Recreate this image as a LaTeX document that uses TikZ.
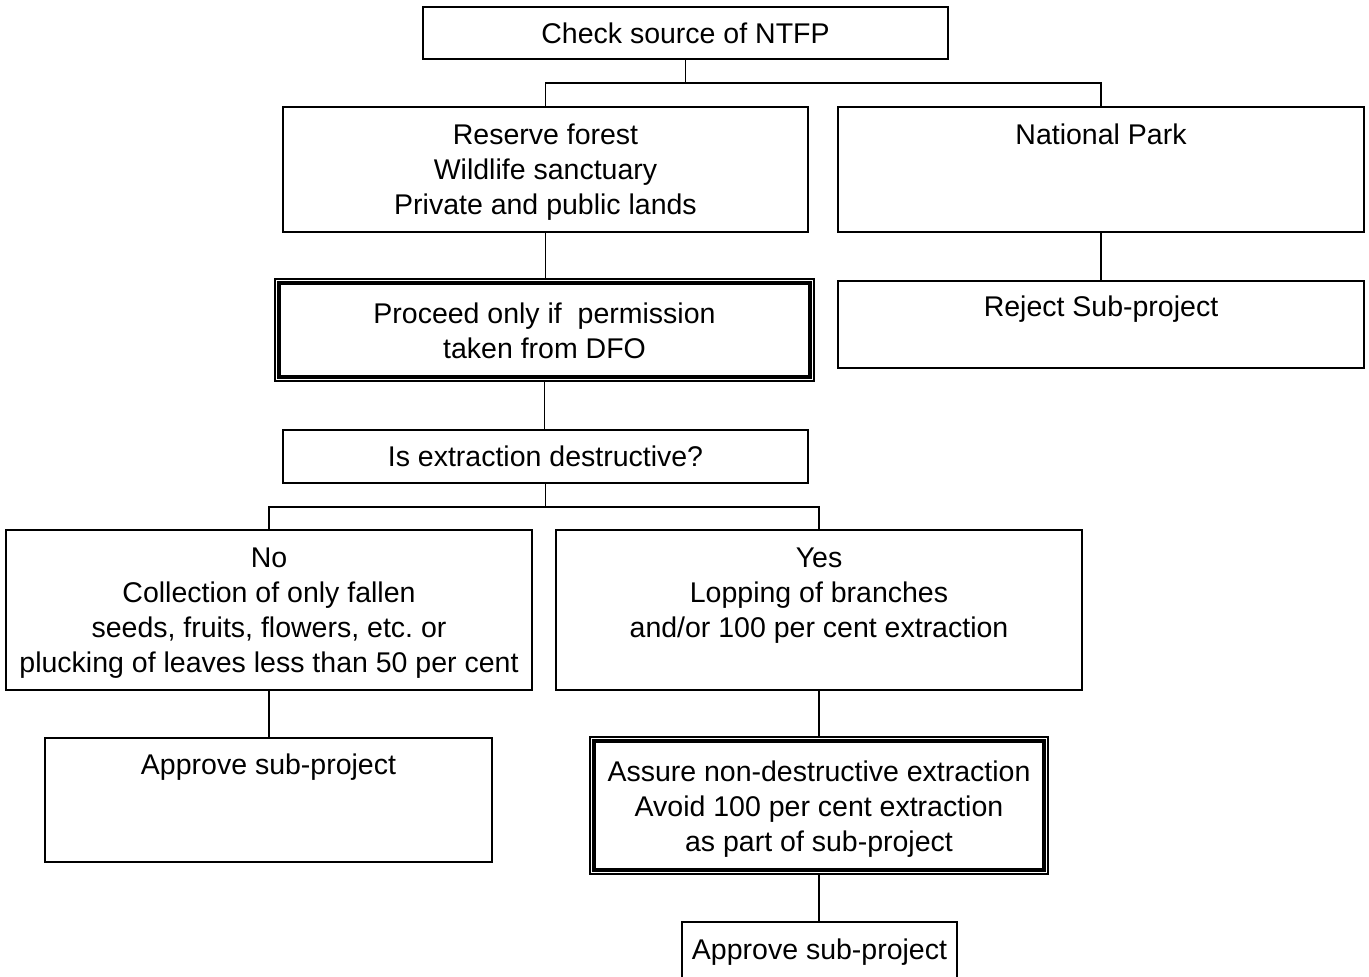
\documentclass[tikz,border=0pt]{standalone}
\usepackage{fontspec}
\setmainfont{Liberation Sans}
\frenchspacing
\begin{document}
\begin{tikzpicture}[x=0.5pt,y=-0.5pt,
  every node/.style={font=\fontsize{14.25}{17.5}\selectfont},
  size/.style 2 args={minimum width=#1*0.5pt, minimum height=#2*0.5pt},
  box/.style={draw, line width=1pt, rectangle, inner sep=0pt, align=center},
  outerbox/.style={draw, line width=0.65pt, rectangle, inner sep=0pt, align=center},
  inner frame/.style={line width=2pt},
  txt/.style={inner sep=0pt, align=center},
  link/.style={line width=0.9pt}]
\useasboundingbox (0,0) rectangle (1369,976);

% boxes and their texts
\node[box, size={525}{52}] (check) at (685.5,33) {Check source of NTFP};

\node[box, size={525}{125}] (reserve) at (545.5,169.5) {};
\node[txt] (reservetxt) at (545.5,172)
  {Reserve forest\\Wildlife sanctuary\\Private and public lands};
\node[box, size={526}{125}] (natpark) at (1101,169.5) {};
\node[txt] (natparktxt) at (1101,134) {National Park};

\node[outerbox, size={539}{102}] (proceed) at (544.5,330) {};
\node[txt] (proceedtxt) at (544.5,331)
  {Proceed only if\ \ permission\\taken from DFO};
\draw[inner frame] ([shift={(5,5)}]proceed.north west) rectangle ([shift={(-5,-5)}]proceed.south east);

\node[box, size={526}{87}] (reject) at (1101,324.5) {};
\node[txt] (rejecttxt) at (1101,309) {Reject Sub-project};

\node[box, size={525}{53}] (isext) at (545.5,456.5) {Is extraction destructive?};

\node[box, size={526}{160}] (no) at (269,610) {};
\node[txt] (notxt) at (269,613)
  {No\\Collection of only fallen\\seeds, fruits, flowers, etc. or\\plucking of leaves less than 50 per cent};
\node[box, size={526}{160}] (yes) at (819,610) {};
\node[txt] (yestxt) at (819,596)
  {Yes\\Lopping of branches\\and/or 100 per cent extraction};

\node[box, size={447}{124}] (approveL) at (268.5,800) {};
\node[txt] (approveLtxt) at (268.5,767) {Approve sub-project};

\node[outerbox, size={458}{137}] (assure) at (819,805.5) {};
\node[txt] (assuretxt) at (819,809.5)
  {Assure non-destructive extraction\\Avoid 100 per cent extraction\\as part of sub-project};
\draw[inner frame] ([shift={(5,5)}]assure.north west) rectangle ([shift={(-5,-5)}]assure.south east);

\node[box, size={275}{56}] (approveB) at (819.5,950) {};
\node[txt] (approveBtxt) at (819.5,952) {Approve sub-project};

% connectors
\coordinate (j1) at (685.5,83);
\draw[link] (check) -- (j1);
\draw[link] (reserve.north) |- (j1) -| (natpark.north);
\draw[link] (reserve.south) -- (reserve.south |- proceed.north);
\draw[link] (natpark) -- (reject);
\draw[link] (proceed.south) -- (proceed.south |- isext.north);
\coordinate (j2) at (545.5,507);
\draw[link] (isext) -- (j2);
\draw[link] (no.north) |- (j2) -| (yes.north);
\draw[link] (no.south) -- (no.south |- approveL.north);
\draw[link] (yes) -- (assure);
\draw[link] (assure.south) -- (assure.south |- approveB.north);
\end{tikzpicture}
\end{document}
